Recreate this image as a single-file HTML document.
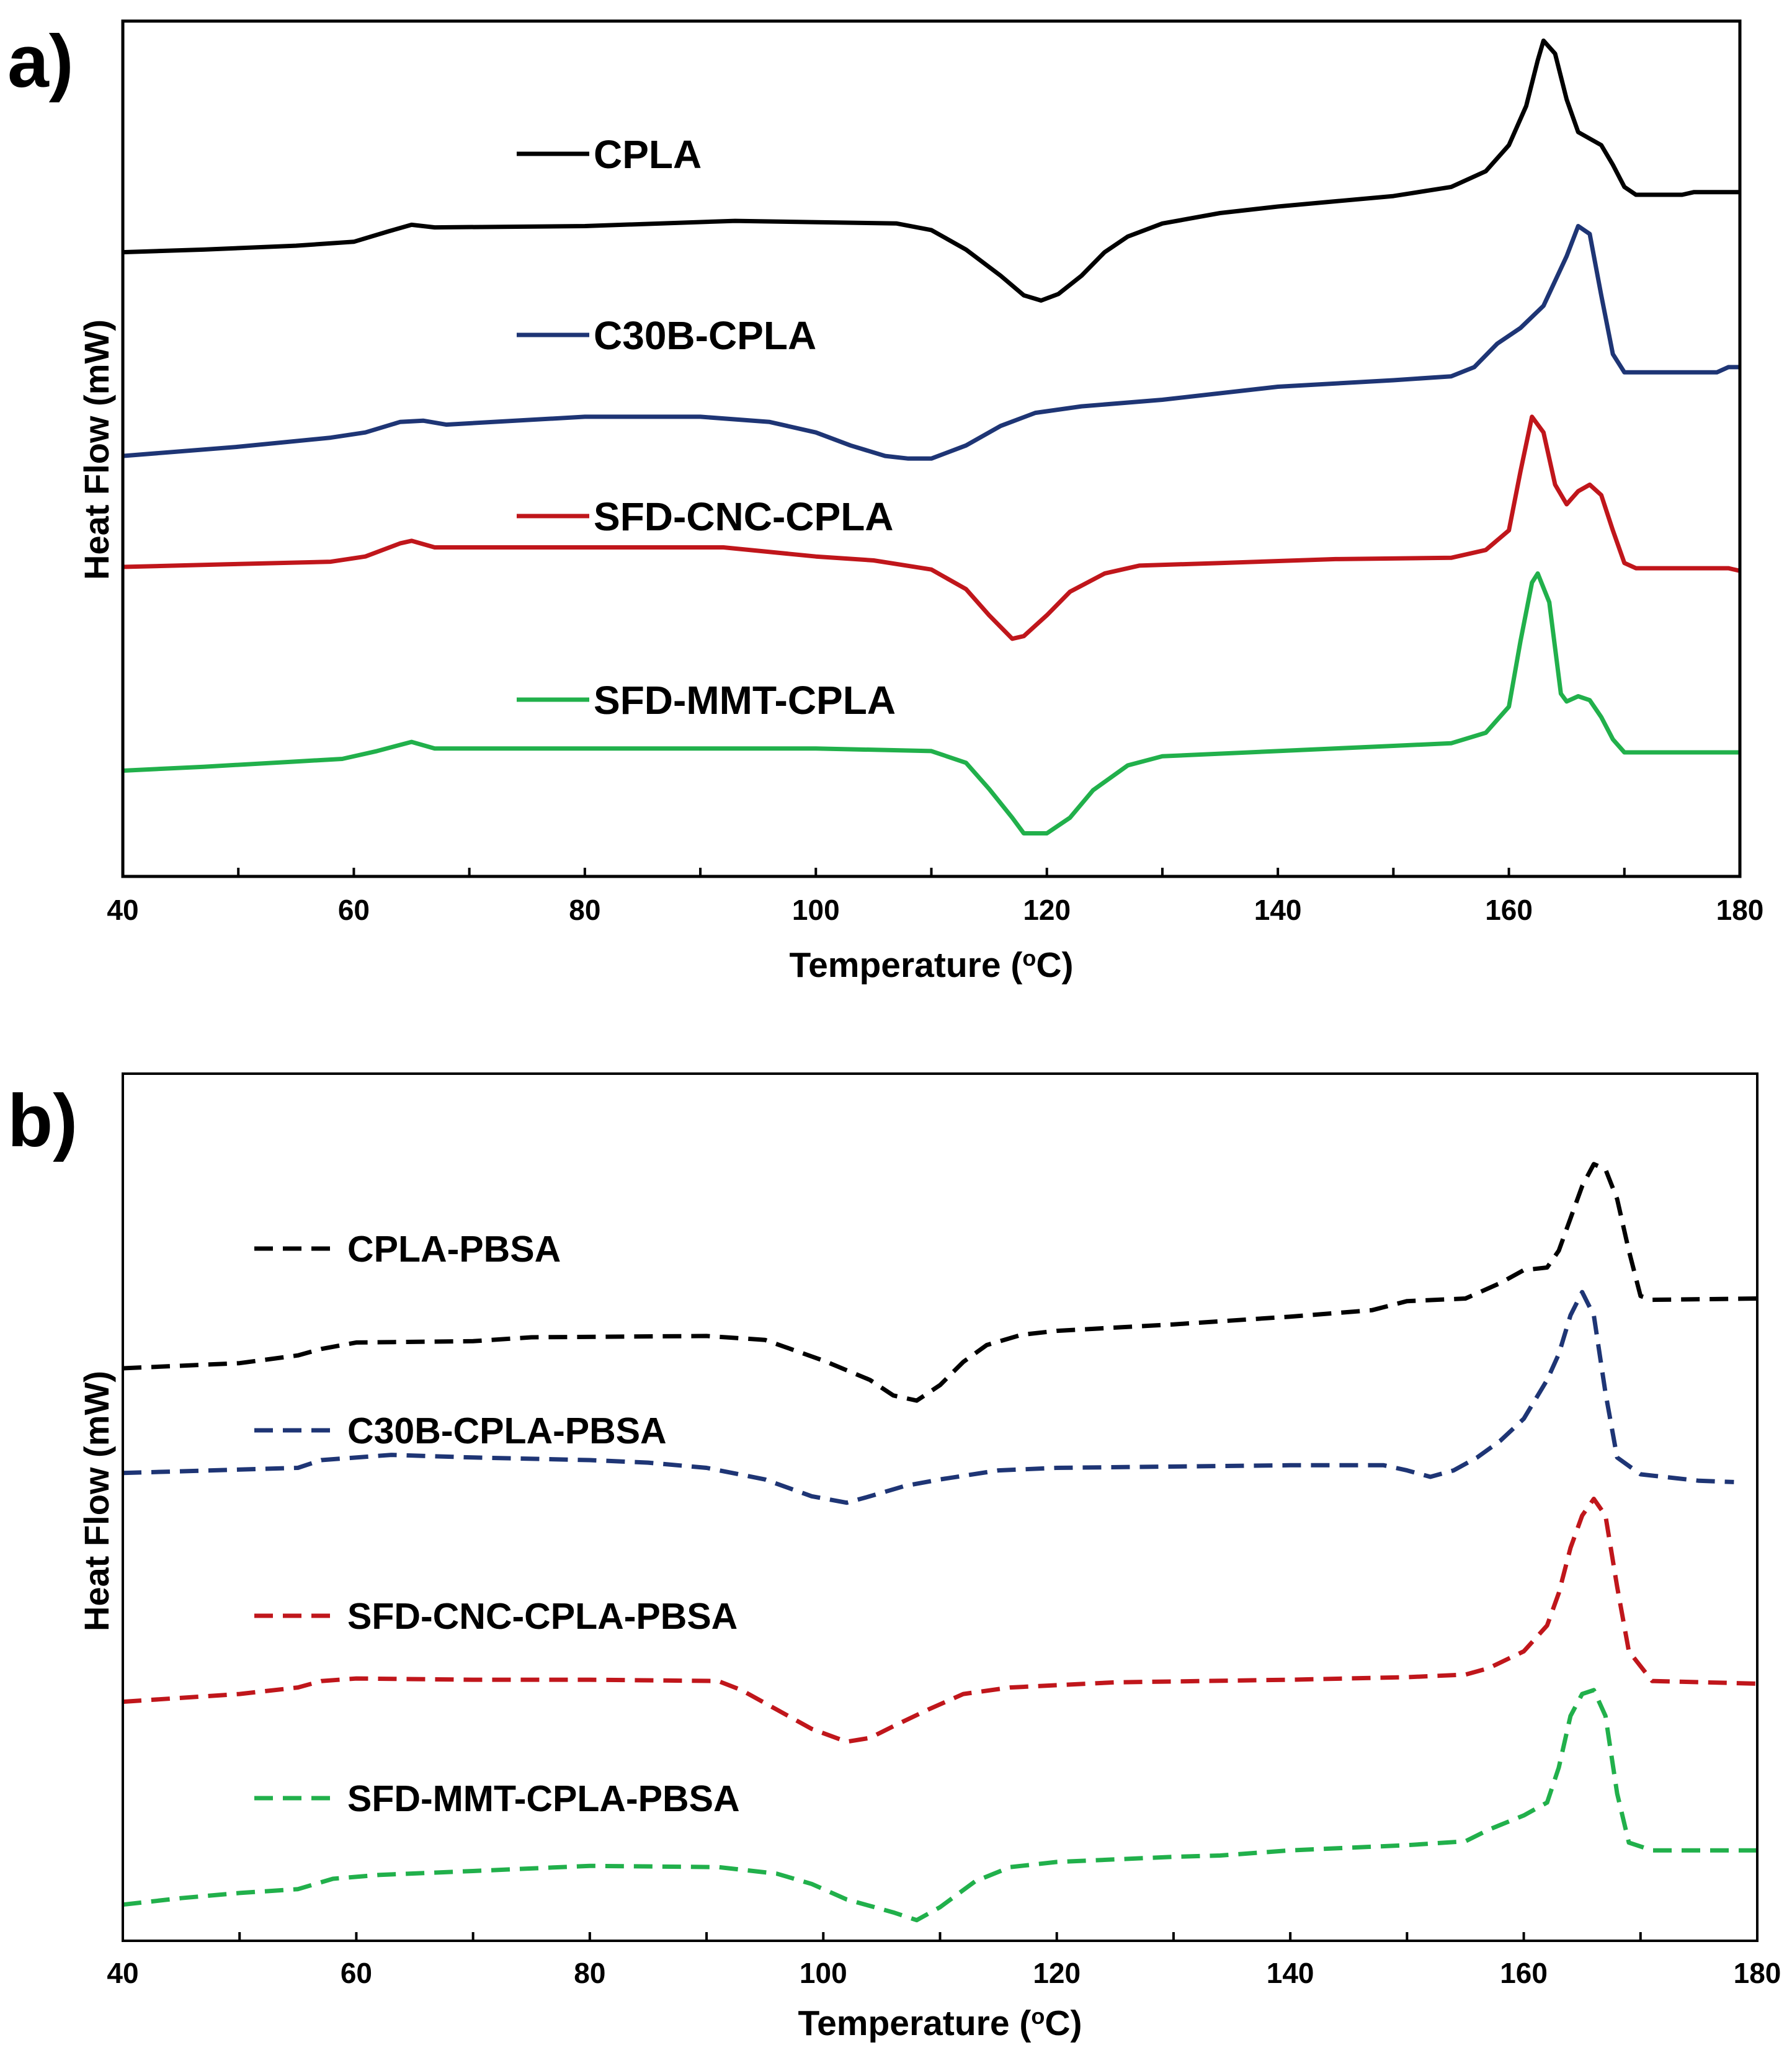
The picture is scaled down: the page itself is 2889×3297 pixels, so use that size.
<!DOCTYPE html>
<html><head><meta charset="utf-8"><style>
html,body{margin:0;padding:0;background:#fff}
svg{display:block}
text{font-family:"Liberation Sans",Arial,sans-serif;font-weight:bold;fill:#000}
</style></head><body>
<svg id="fig" width="2889" height="3297" viewBox="0 0 2889 3297" xmlns="http://www.w3.org/2000/svg">
<g id="pa"></g>
<g id="pb"></g>
</svg>
<script>
// x positions in °C; heat-flow readings in arbitrary plot units (screen-reading scale)
const aT_cpla=[40,47,55,60,63,65,67,80,93,107,110,113,116,118,119.5,121,123,125,127,130,135,140,145,150,155,158,160,161.5,162.5,163,164,165,166,168,169,170,171,175,176,180];
const aV_cpla=[192,190,187,184,176,171,173,172,168,170,175,190,210,225,229,224,210,192,180,170,162,157,153,149,142,130,110,80,45,30,40,75,100,110,125,142,148,148,146,146];
const aT_c30b=[40,50,58,61,64,66,68,80,90,96,100,103,106,108,110,113,116,119,123,130,140,150,155,157,159,161,163,165,166,167,168,169,170,178,179,180];
const aV_c30b=[348,341,334,330,322,321,324,318,318,322,330,340,348,350,350,340,325,315,310,305,295,290,287,280,262,250,233,195,172,178,225,270,284,284,280,280];
const aT_cnc=[40,49,58,61,64,65,67,80,92,100,105,110,113,115,117,118,120,122,125,128,135,145,155,158,160,161,162,163,164,165,166,167,168,169,170,171,179,180];
const aV_cnc=[433,431,429,425,415,413,418,418,418,425,428,435,450,470,488,486,470,452,438,432,430,427,426,420,405,360,318,330,370,385,375,370,378,405,430,434,434,436];
const aT_mmt=[40,47,55,59,62,65,67,80,100,110,113,115,117,118,120,122,124,127,130,140,150,155,158,160,161,162,162.5,163.5,164.5,165,166,167,168,169,170,180];
const aV_mmt=[589,586,582,580,574,567,572,572,572,574,583,603,625,637,637,625,604,585,578,574,570,568,560,540,490,445,438,460,530,536,532,535,548,565,575,575];

const bT_cpla=[40,50,55,57,60,70,75,90,95,100,104,106,108,110,112,114,117,120,130,140,147,150,155,158,160,162,163,164,165,166,167,168,169,170,171,180];
const bV_cpla=[1051,1047,1041,1036,1031,1030,1027,1026,1029,1045,1060,1072,1076,1064,1046,1033,1025,1022,1017,1011,1006,999,997,985,975,973,960,935,910,893,897,920,960,995,998,997];
const bT_c30b=[40,55,57,63,70,80,85,90,95,99,102,104,107,110,115,120,140,148,150,152,154,156,158,160,162,163,164,165,166,167,168,170,175,178];
const bV_c30b=[1132,1128,1122,1118,1120,1122,1124,1128,1137,1150,1155,1150,1142,1137,1130,1128,1126,1126,1130,1135,1130,1120,1107,1090,1060,1040,1010,992,1010,1070,1120,1133,1138,1139];
const bT_cnc=[40,50,55,57,60,70,80,91,93,96,99,102,104,106,109,112,116,125,140,150,155,157,160,162,163,164,165,166,167,168,169,171,180];
const bV_cnc=[1309,1303,1298,1293,1291,1292,1292,1293,1300,1315,1330,1340,1337,1328,1315,1303,1298,1294,1292,1290,1288,1283,1270,1250,1225,1190,1165,1152,1165,1220,1270,1293,1295];
const bT_mmt=[40,45,50,55,58,62,70,80,91,96,99,102,106,108,110,113,116,120,130,134,140,150,155,157,160,162,163,164,165,166,167,168,169,171,180];
const bV_mmt=[1466,1461,1457,1454,1446,1443,1440,1436,1437,1442,1450,1462,1472,1478,1468,1448,1437,1433,1429,1428,1424,1420,1417,1408,1397,1387,1360,1320,1303,1300,1320,1380,1418,1424,1424];

const xTicks=[40,60,80,100,120,140,160,180];
const xMinor=[50,70,90,110,130,150,170];
const aLegend=["CPLA","C30B-CPLA","SFD-CNC-CPLA","SFD-MMT-CPLA"];
const bLegend=["CPLA-PBSA","C30B-CPLA-PBSA","SFD-CNC-CPLA-PBSA","SFD-MMT-CPLA-PBSA"];
const colors=["#000000","#1e3575","#c0161b","#21b04b"];

const NS="http://www.w3.org/2000/svg";
function mk(tag,attrs,parent){const e=document.createElementNS(NS,tag);for(const k in attrs)e.setAttribute(k,attrs[k]);parent.appendChild(e);return e;}

function panel(g,opt){
  const L=opt.L,R=opt.R,T=opt.T,B=opt.B;
  const xs=t=>L+(t-40)/(140)*(R-L);
  const ys=v=>T+(v-opt.v0)/(opt.v1-opt.v0)*(B-T);
  opt.series.forEach((s,i)=>{
    const d=s.t.map((t,j)=>(j?'L':'M')+xs(t).toFixed(1)+' '+ys(s.v[j]).toFixed(1)).join(' ');
    const p=mk('path',{d:d,fill:'none',stroke:colors[i],'stroke-width':opt.sw,'stroke-linejoin':'round'},g);
    if(opt.dash)p.setAttribute('stroke-dasharray',opt.dash);
    
    
    const ly=opt.legY[i];
    const ll=mk('line',{x1:opt.legX1,x2:opt.legX2,y1:ly,y2:ly,stroke:colors[i],'stroke-width':opt.sw},g);
    if(opt.dash)ll.setAttribute('stroke-dasharray',opt.legDash);
    
    
    const lt=mk('text',{x:opt.legTX,y:ly+opt.legFs*0.36,'font-size':opt.legFs},g);
    lt.textContent=s.name;
    
    
  });
  const fr=mk('rect',{x:L,y:T,width:R-L,height:B-T,fill:'none',stroke:'#000','stroke-width':opt.bw},g);
  
  
  xMinor.concat(xTicks).forEach(t=>{
    const tk=mk('line',{x1:xs(t),x2:xs(t),y1:B,y2:B-14,stroke:'#000','stroke-width':4},g);
    
    
  });
  xTicks.forEach(t=>{
    const tl=mk('text',{x:xs(t),y:B+opt.tickDy,'font-size':46,'text-anchor':'middle'},g);
    tl.textContent=t;
    
    
  });
  const xt=mk('text',{x:(L+R)/2,y:B+opt.titleDy,'font-size':57,'text-anchor':'middle'},g);
  xt.innerHTML='Temperature (<tspan font-size="36" dy="-18">o</tspan><tspan dy="18">C)</tspan>';
  
  
  const yt=mk('text',{x:0,y:0,'font-size':56,'text-anchor':'middle',transform:`translate(${opt.yTitleX},${opt.yTitleY}) rotate(-90)`},g);
  yt.textContent='Heat Flow (mW)';
  
  
  const pl=mk('text',{x:12,y:opt.labY,'font-size':120},g);
  pl.textContent=opt.label;
  
  
}

panel(document.getElementById('pa'),{L:198,R:2805,T:34,B:1413,v0:15,v1:670,sw:7,bw:5,
  series:[{name:aLegend[0],t:aT_cpla,v:aV_cpla},{name:aLegend[1],t:aT_c30b,v:aV_c30b},{name:aLegend[2],t:aT_cnc,v:aV_cnc},{name:aLegend[3],t:aT_mmt,v:aV_mmt}],
  legY:[248,540,832,1128],legX1:833,legX2:950,legTX:957,legFs:64,
  tickDy:70,titleDy:162,yTitleX:175,yTitleY:725,labY:140,label:'a)'});
panel(document.getElementById('pb'),{L:198,R:2833,T:1731,B:3129,v0:823,v1:1494,sw:7,bw:4,dash:'30 16',legDash:'30 16',
  series:[{name:bLegend[0],t:bT_cpla,v:bV_cpla},{name:bLegend[1],t:bT_c30b,v:bV_c30b},{name:bLegend[2],t:bT_cnc,v:bV_cnc},{name:bLegend[3],t:bT_mmt,v:bV_mmt}],
  legY:[2013,2306,2605,2899],legX1:410,legX2:535,legTX:560,legFs:59,
  tickDy:68,titleDy:152,yTitleX:175,yTitleY:2420,labY:1848,label:'b)'});
</script>
</body></html>
